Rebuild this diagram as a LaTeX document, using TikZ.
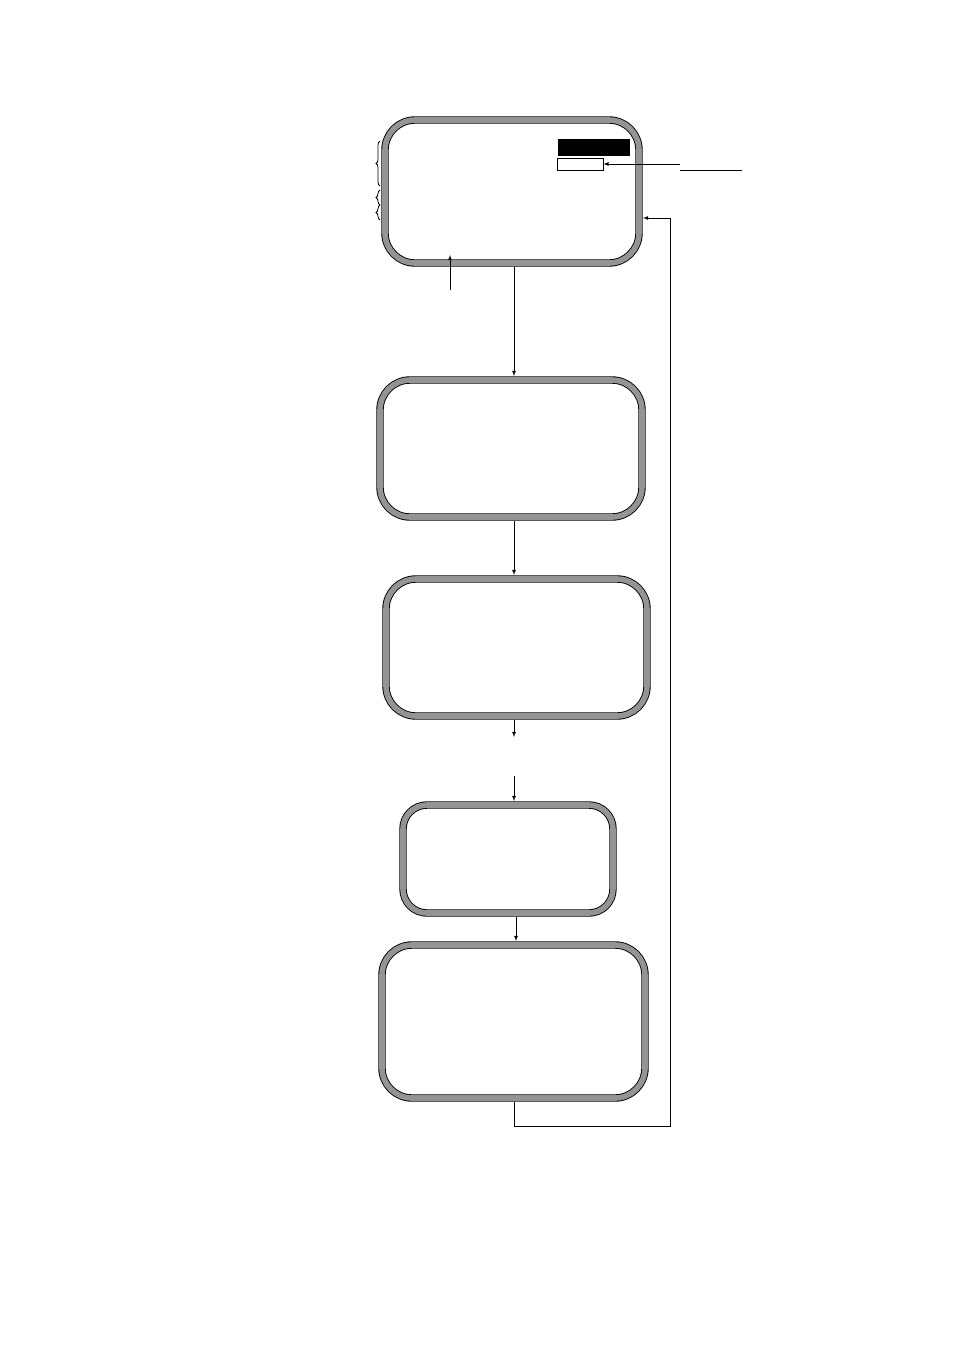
\documentclass[tikz,border=0pt]{standalone}
\usepackage{tikz}
\usetikzlibrary{decorations.pathreplacing}

\begin{document}
\begin{tikzpicture}[x=1pt,y=-1pt,>=latex,
  screen/.style={draw=black,line width=0.9pt,double=black!42,double distance=5.6pt,
    rounded corners=30pt,inner sep=0pt,outer sep=4pt},
  thin/.style={line width=0.8pt}]
\useasboundingbox (0,0) rectangle (954,1350);

% screens
\node [screen,minimum width=254pt,minimum height=143pt] (s1) at (512,191.5) {};
\node [screen,minimum width=262pt,minimum height=137pt] (s2) at (511,448.5) {};
\node [screen,minimum width=261pt,minimum height=137pt] (s3) at (516.5,647.5) {};
\node [screen,minimum width=210pt,minimum height=108pt,rounded corners=24pt] (s4) at (508,859) {};
\node [screen,minimum width=263pt,minimum height=153pt] (s5) at (513.5,1021.5) {};

% marks in first screen
\node [fill=black,inner sep=0pt,minimum width=72pt,minimum height=17pt] (bar) at (594,147.5) {};
\node [draw,thin,fill=white,inner sep=0pt,minimum width=46pt,minimum height=12pt] (tag) at (580,164) {};
\coordinate (tagfrom) at (680,164);
\draw [thin,->] (tagfrom) -- (tag.east);
\draw [thin] (680,170) -- (742,170);

% braces
\draw [thin,decorate,decoration={brace,amplitude=4pt}] (380,186) -- (380,141);
\draw [thin,decorate,decoration={brace,amplitude=4pt}] (380,205) -- (380,190);
\draw [thin,decorate,decoration={brace,amplitude=4pt}] (380,220) -- (380,205);

% pointer
\coordinate (pt) at (450,290);
\draw [thin,->] (pt) -- (450,255);

% flow
\coordinate (a1) at (514,0);
\draw [thin,->] (s1.south -| a1) -- (s2.north -| a1);
\draw [thin,->] (s2.south -| a1) -- (s3.north -| a1);
\coordinate (g1) at (514,737);
\coordinate (g2) at (514,776);
\draw [thin,->] (s3.south -| g1) -- (g1);
\draw [thin,->] (g2) -- (g2 |- s4.north);
\coordinate (a2) at (516,0);
\draw [thin,->] (s4.south -| a2) -- (s5.north -| a2);

% back to first screen
\coordinate (fb) at (670,1126);
\coordinate (fe) at (0,218);
\draw [thin,->] (s5.south -| a1) |- (fb) |- (s1.east |- fe);
\end{tikzpicture}
\end{document}
